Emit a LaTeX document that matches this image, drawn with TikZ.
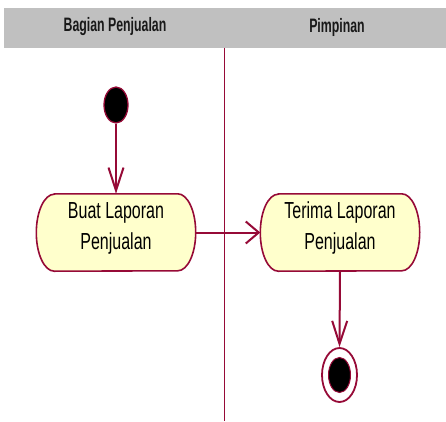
\documentclass[tikz,border=0pt]{standalone}
\usepackage{fontspec}
\setmainfont{Liberation Sans}
\usetikzlibrary{arrows.meta,backgrounds,shapes.geometric}
\definecolor{umlline}{RGB}{150,10,55}
\definecolor{umlfill}{RGB}{255,255,204}
\definecolor{hdrgray}{RGB}{192,192,192}
\newcommand\acttext[1]{\scalebox{1}[1.45]{\fontsize{16}{21.4}\selectfont\begin{tabular}{@{}c@{}}#1\end{tabular}}}
\newcommand\hdrtext[1]{\scalebox{0.92}[1.45]{\fontsize{13.4}{16}\selectfont\bfseries #1}}
\tikzset{
  actbox/.style={rectangle, minimum width=159pt, minimum height=77pt, inner sep=0pt, draw=none},
  stadium/.style={draw=umlline, fill=umlfill, line width=1.6pt},
  flow/.style={draw=umlline, line width=2pt},
  hbarb/.style={-{Straight Barb[length=13pt,width=22pt]}},
  vbarb/.style={-{Straight Barb[length=23pt,width=15pt]}},
  lanehdr/.style={inner sep=0pt, text=black!90},
}
\newcommand\drawstadium[1]{%
  \path[stadium] ([xshift=18pt]#1.north west) -- ([xshift=-18pt]#1.north east)
    arc[start angle=90,end angle=-90,x radius=18pt,y radius=38.5pt]
    -- ([xshift=18pt]#1.south west)
    arc[start angle=270,end angle=90,x radius=18pt,y radius=38.5pt] -- cycle;}
\begin{document}
\begin{tikzpicture}[x=1pt,y=1pt]
\useasboundingbox (0,0) rectangle (446,421);
% header
\fill[hdrgray] (4,373) rectangle (446,413);
\node[lanehdr] (h1) at (115,394) {\hdrtext{Bagian Penjualan}};
\node[lanehdr] (h2) at (337,394) {\hdrtext{Pimpinan}};
% divider
\coordinate (dtop) at (224.5,373);
\coordinate (dbot) at (224.5,0);
\draw[draw=umlline, line width=1.5pt] (dtop) -- (dbot);
% start
\node[ellipse, fill=black, draw=umlline, line width=1.3pt, minimum width=24pt, minimum height=36pt, inner sep=0pt] (start) at (116,316) {};
% actions
\node[actbox] (b1) at (116,188.5) {};
\node[actbox] (b2) at (340,188.5) {};
\begin{scope}[on background layer]
\drawstadium{b1}
\drawstadium{b2}
\end{scope}
\node[inner sep=0pt] (t1) at ([yshift=5pt]b1.center) {\acttext{Buat Laporan\\Penjualan}};
\node[inner sep=0pt] (t2) at ([yshift=5pt]b2.center) {\acttext{Terima Laporan\\Penjualan}};
% end
\node[ellipse, draw=umlline, line width=1.8pt, minimum width=35pt, minimum height=54pt, inner sep=0pt] (end) at (339.5,46) {};
\node[ellipse, fill=black, draw=umlline, line width=1pt, minimum width=22pt, minimum height=35pt, inner sep=0pt] (endin) at (339.5,46) {};
% flows
\draw[flow, vbarb] (start.south) -- (b1.north);
\draw[flow, hbarb] (b1.east) -- (b2.west);
\draw[flow, vbarb] (b2.south) -- (end.north);
\end{tikzpicture}
\end{document}
